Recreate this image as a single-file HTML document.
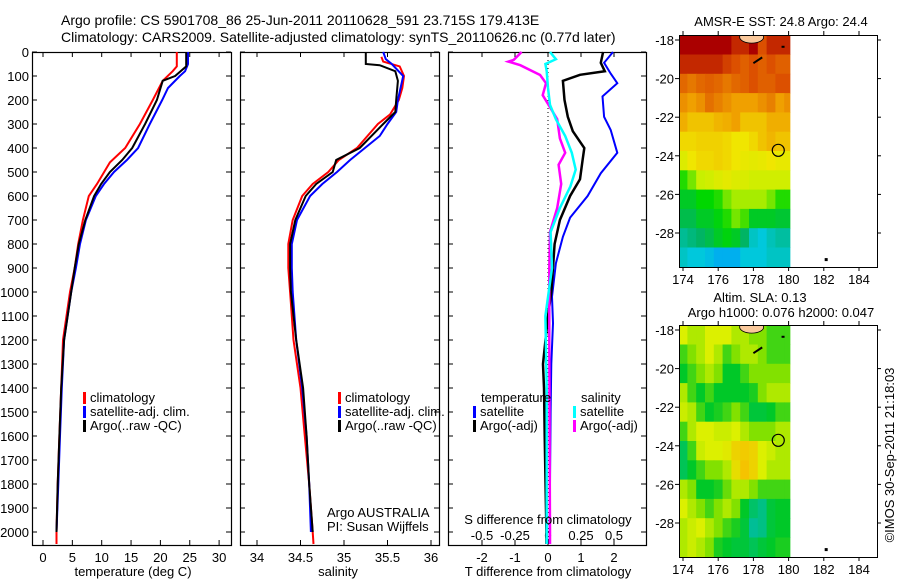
<!DOCTYPE html>
<html><head><meta charset="utf-8"><style>
html,body{margin:0;padding:0;background:#fff;}
svg{display:block;font-family:"Liberation Sans",sans-serif;}
text{fill:#000;}
</style></head><body>
<svg id="c" width="900" height="580" viewBox="0 0 900 580">
<text x="61" y="25" font-size="14">Argo profile: CS 5901708_86 25-Jun-2011 20110628_591 23.715S 179.413E</text>
<text x="61" y="42" font-size="14">Climatology: CARS2009. Satellite-adjusted climatology: synTS_20110626.nc (0.77d later)</text>
</svg>
<script>
// ---- profile data ----
const tRedDepth=[0,60,80,120,200,300,400,460,550,600,700,800,900,1000,1200,1400,1600,1800,2000,2050];
const tRedVal=[22.8,22.8,22.1,20.4,18.7,16.5,14,11.4,9.2,7.8,6.8,6,5.4,4.6,3.4,3.1,2.8,2.5,2.3,2.3];
const tBlueDepth=[0,50,80,100,150,200,300,400,450,500,550,600,700,800,900,1000,1200,1400,1600,1800,2000];
const tBlueVal=[24.7,24.7,24.2,23.3,21.3,20.3,18.2,16.2,14.3,12.1,10.4,9,7.3,6.3,5.6,4.8,3.6,3.2,2.9,2.6,2.3];
const tBlackDepth=[0,60,100,120,200,300,400,450,500,550,600,700,800,900,1000,1200,1400,1600,1800,2000];
const tBlackVal=[24.4,24.4,22.5,20.4,19.4,17.4,15.2,13.5,11.4,9.9,8.7,7.2,6.1,5.4,4.8,3.6,3.1,2.8,2.5,2.3];

const sRedDepth=[20,40,60,100,150,200,260,300,400,450,500,550,600,700,800,900,1000,1200,1400,1600,1800,2000,2050];
const sRedVal=[35.43,35.45,35.64,35.69,35.67,35.63,35.53,35.39,35.15,34.94,34.82,34.64,34.52,34.41,34.36,34.36,34.38,34.42,34.5,34.55,34.6,34.64,34.65];
const sBlueDepth=[0,30,50,100,200,250,300,350,400,450,500,550,600,700,800,900,1000,1200,1400,1600,1800,2000];
const sBlueVal=[35.45,35.48,35.55,35.68,35.62,35.6,35.5,35.41,35.24,35.07,34.92,34.75,34.61,34.46,34.4,34.4,34.41,34.45,34.52,34.57,34.6,34.62];
const sBlackDepth=[0,50,55,80,120,200,250,300,400,450,500,550,600,700,800,900,1000,1200,1400,1600,1800,2000];
const sBlackVal=[35.25,35.25,35.41,35.59,35.62,35.6,35.59,35.45,35.18,34.91,34.87,34.68,34.56,34.44,34.38,34.38,34.39,34.45,34.53,34.57,34.6,34.64];

const dTSatDepth=[0,45,90,130,185,270,325,420,505,600,690,770,880,1020,1130,1300,1500,1800,2050];
const dTSatVal=[1.97,1.7,1.9,2.1,1.65,1.7,1.9,2.1,1.6,1.2,0.67,0.45,0.24,0.12,0.15,0.1,0.08,0.06,0.05];
const dTArgoDepth=[0,45,80,95,120,200,270,330,400,450,530,600,700,800,1000,1100,1300,1400,1600,2000,2050];
const dTArgoVal=[1.67,1.6,1.72,0.97,0.45,0.5,0.6,0.75,1.1,1.05,0.97,0.67,0.36,0.2,0.1,0,-0.15,-0.12,-0.1,-0.05,-0.05];
const dSArgoDepth=[0,33,40,55,96,130,180,230,280,360,420,470,550,650,750,900,1200,1600,2000,2050];
const dSArgoVal=[-0.2,-0.26,-0.3,-0.21,-0.06,-0.015,-0.04,0.015,0.07,0.09,0.13,0.08,0.1,0.07,0.015,0.01,0.01,0.012,0.015,0.015];
const dSSatDepth=[0,30,50,80,150,220,280,350,420,490,560,650,750,900,1100,1400,1800,2050];
const dSSatVal=[0.015,0.06,-0.02,-0.01,0,0.015,0.06,0.13,0.18,0.21,0.17,0.09,0.02,0.03,-0.02,-0.01,-0.01,-0.01];

const depthTicks=[0,100,200,300,400,500,600,700,800,900,1000,1100,1200,1300,1400,1500,1600,1700,1800,1900,2000];
const tempTicks=[0,5,10,15,20,25,30];
const salTicks=[34,34.5,35,35.5,36];
const salTickLabels=["34","34.5","35","35.5","36"];
const dTTicks=[-2,-1,0,1,2];
const dSTicks=[-0.5,-0.25,0,0.25,0.5];
const dSTickLabels=["-0.5","-0.25","0","0.25","0.5"];

// ---- map data (13 cols x 12 rows, 0.5deg x 1deg from 173.75E, -17.75) ----
const lonTicks=[174,176,178,180,182,184];
const latTicks=[-18,-20,-22,-24,-26,-28];
const sstGrid=[
[1,1,1,1,1,1,0.95,0.95,1,0.9,0.95,0.95,0.95],
[0.95,0.95,0.95,0.95,0.95,0.92,0.9,0.88,0.9,0.88,0.9,0.88,0.88],
[0.87,0.85,0.87,0.88,0.87,0.85,0.87,0.88,0.9,0.88,0.88,0.9,0.9],
[0.82,0.8,0.82,0.86,0.84,0.82,0.8,0.8,0.8,0.82,0.84,0.8,0.82],
[0.78,0.75,0.75,0.75,0.77,0.78,0.8,0.75,0.75,0.75,0.78,0.78,0.78],
[0.72,0.72,0.73,0.73,0.73,0.72,0.7,0.7,0.72,0.75,0.77,0.75,0.75],
[0.65,0.7,0.72,0.72,0.73,0.72,0.7,0.68,0.67,0.68,0.7,0.68,0.68],
[0.5,0.55,0.6,0.62,0.65,0.67,0.65,0.64,0.62,0.62,0.62,0.62,0.62],
[0.45,0.45,0.48,0.48,0.5,0.55,0.58,0.58,0.58,0.58,0.55,0.5,0.5],
[0.42,0.42,0.45,0.45,0.47,0.5,0.55,0.52,0.45,0.45,0.45,0.44,0.44],
[0.36,0.38,0.4,0.42,0.45,0.47,0.45,0.4,0.32,0.3,0.33,0.35,0.35],
[0.32,0.3,0.3,0.28,0.25,0.25,0.25,0.3,0.3,0.3,0.32,0.32,0.32]];
const slaGrid=[
[0.6,0.55,0.55,0.6,0.6,0.6,0.55,0.55,0.5,0.5,0.45,0.45,0.45],
[0.45,0.5,0.55,0.6,0.55,0.45,0.5,0.55,0.55,0.5,0.45,0.45,0.45],
[0.4,0.45,0.5,0.55,0.5,0.4,0.4,0.45,0.5,0.5,0.5,0.5,0.5],
[0.55,0.45,0.4,0.45,0.4,0.4,0.4,0.4,0.42,0.5,0.55,0.55,0.55],
[0.58,0.55,0.45,0.4,0.42,0.45,0.5,0.45,0.38,0.38,0.4,0.45,0.45],
[0.45,0.55,0.6,0.6,0.58,0.58,0.6,0.55,0.5,0.5,0.5,0.55,0.55],
[0.35,0.45,0.58,0.6,0.6,0.62,0.68,0.7,0.68,0.6,0.58,0.55,0.55],
[0.35,0.4,0.45,0.5,0.5,0.55,0.65,0.72,0.68,0.6,0.55,0.55,0.55],
[0.55,0.5,0.4,0.4,0.42,0.48,0.55,0.55,0.5,0.45,0.45,0.45,0.45],
[0.6,0.55,0.5,0.45,0.5,0.55,0.5,0.4,0.33,0.3,0.38,0.4,0.4],
[0.55,0.58,0.6,0.55,0.5,0.45,0.42,0.38,0.28,0.3,0.38,0.4,0.4],
[0.55,0.58,0.55,0.5,0.42,0.4,0.38,0.38,0.35,0.38,0.4,0.42,0.42]];
const argoLon=179.413, argoLat=-23.715;

const NS="http://www.w3.org/2000/svg";
const svg=document.getElementById('c');
function el(tag,attrs,parent){const e=document.createElementNS(NS,tag);for(const k in attrs)e.setAttribute(k,attrs[k]);(parent||svg).appendChild(e);return e;}
function txt(x,y,s,size,anchor,parent){const t=el('text',{x:x,y:y,'font-size':size,'text-anchor':anchor||'start'},parent);t.textContent=s;return t;}

const TOP=52,BOT=545;
const yD=d=>52+d*0.24;
const xT=t=>43+t*5.87;
const xS=s=>257+(s-34)*87;
const xdT=t=>548+t*33;
const xdS=s=>548+s*132;

function panel(x0,x1,name){
  const g=el('g',{});
  
  
  el('rect',{x:x0+0.5,y:TOP+0.5,width:x1-x0,height:BOT-TOP,fill:'none',stroke:'#000','stroke-width':1.2},g);
  depthTicks.forEach(d=>{const y=yD(d);
    el('line',{x1:x0,y1:y,x2:x0+5,y2:y,stroke:'#000'},g);
    el('line',{x1:x1-5,y1:y,x2:x1,y2:y,stroke:'#000'},g);});
  return g;
}
function line(ds,vs,xf,color,name,g,w){
  const pts=ds.map((d,i)=>xf(vs[i]).toFixed(1)+','+yD(d).toFixed(1)).join(' ');
  const p=el('polyline',{points:pts,fill:'none',stroke:color,'stroke-width':w||2},g);
  
  
}

// Panel 1
const p1=panel(32,231,'temperature-panel');
depthTicks.forEach(d=>{const t=txt(29,yD(d)+5,String(d),13,'end',p1);
  
  });
tempTicks.forEach(v=>{const x=xT(v);
  el('line',{x1:x,y1:BOT,x2:x,y2:BOT-5,stroke:'#000'},p1);
  el('line',{x1:x,y1:TOP,x2:x,y2:TOP+5,stroke:'#000'},p1);
  const t=txt(x,562,String(v),13,'middle',p1);
  
  });
line(tRedDepth,tRedVal,xT,'#f00','temp-climatology-line',p1);
line(tBlueDepth,tBlueVal,xT,'#00f','temp-satellite-line',p1);
line(tBlackDepth,tBlackVal,xT,'#000','temp-argo-line',p1);
{const t=txt(133,576,'temperature (deg C)',13,'middle',p1);}

function legend(x,y,items,g,name){
  const lg=el('g',{},g);
  
  
  items.forEach((it,i)=>{
    el('rect',{x:x,y:y+i*14-10,width:3,height:12,fill:it[0]},lg);
    txt(x+7,y+i*14,it[1],13,'start',lg);});
}
legend(83,402,[['#f00','climatology'],['#00f','satellite-adj. clim.'],['#000','Argo(..raw -QC)']],p1,'temperature-legend');

// Panel 2
const p2=panel(240,439,'salinity-panel');
salTicks.forEach((v,i)=>{const x=xS(v);
  el('line',{x1:x,y1:BOT,x2:x,y2:BOT-5,stroke:'#000'},p2);
  el('line',{x1:x,y1:TOP,x2:x,y2:TOP+5,stroke:'#000'},p2);
  const t=txt(x,562,salTickLabels[i],13,'middle',p2);
  
  });
line(sRedDepth,sRedVal,xS,'#f00','sal-climatology-line',p2);
line(sBlueDepth,sBlueVal,xS,'#00f','sal-satellite-line',p2);
line(sBlackDepth,sBlackVal,xS,'#000','sal-argo-line',p2);
{const t=txt(338,576,'salinity',13,'middle',p2);}
legend(338,402,[['#f00','climatology'],['#00f','satellite-adj. clim.'],['#000','Argo(..raw -QC)']],p2,'salinity-legend');
{const t=txt(327,517,'Argo AUSTRALIA',13,'start',p2);
 const t2=txt(327,531,'PI: Susan Wijffels',13,'start',p2);}

// Panel 3
const p3=panel(448,646,'difference-panel');
el('line',{x1:548,y1:TOP,x2:548,y2:BOT,stroke:'#000','stroke-dasharray':'1,3'},p3);
dTTicks.forEach(v=>{const x=xdT(v);
  el('line',{x1:x,y1:BOT,x2:x,y2:BOT-5,stroke:'#000'},p3);
  el('line',{x1:x,y1:TOP,x2:x,y2:TOP+5,stroke:'#000'},p3);
  const t=txt(x,562,String(v),13,'middle',p3);
  
  });
dSTicks.forEach((v,i)=>{const x=xdS(v);
  el('line',{x1:x,y1:BOT,x2:x,y2:BOT-4,stroke:'#000'},p3);
  const t=txt(x,540,dSTickLabels[i],13,'middle',p3);
  
  });
line(dTSatDepth,dTSatVal,xdT,'#00f','t-diff-satellite-line',p3);
line(dTArgoDepth,dTArgoVal,xdT,'#000','t-diff-argo-line',p3,2.5);
line(dSArgoDepth,dSArgoVal,xdS,'#f0f','s-diff-argo-line',p3,2.5);
line(dSSatDepth,dSSatVal,xdS,'#0ff','s-diff-satellite-line',p3,2.5);
{const t=txt(548,524,'S difference from climatology',13,'middle',p3);
 const t2=txt(548,576,'T difference from climatology',13,'middle',p3);
 const t3=txt(481,402,'temperature',13,'start',p3);
 const t4=txt(581,402,'salinity',13,'start',p3);}
legend(473,416,[['#00f','satellite'],['#000','Argo(-adj)']],p3,'t-diff-legend');
legend(573,416,[['#0ff','satellite'],['#f0f','Argo(-adj)']],p3,'s-diff-legend');

// ---- Maps ----
const sstStops=[[0.2,[0,150,255]],[0.3,[0,200,220]],[0.4,[0,180,100]],[0.48,[0,215,0]],[0.6,[200,240,0]],[0.7,[240,230,0]],[0.8,[240,160,0]],[0.9,[220,80,0]],[1.0,[170,0,0]]];
const slaStops=[[0.28,[0,190,150]],[0.4,[0,200,40]],[0.5,[130,225,0]],[0.6,[220,240,0]],[0.72,[245,195,0]]];
function cmap(v,stops){
  if(v<=stops[0][0])return stops[0][1];
  for(let i=1;i<stops.length;i++){if(v<=stops[i][0]){const a=stops[i-1],b=stops[i],f=(v-a[0])/(b[0]-a[0]);
    return a[1].map((c,j)=>Math.round(c+(b[1][j]-c)*f));}}
  return stops[stops.length-1][1];
}
function drawMap(y0,grid,stops,name){
  const X0=679,X1=877,Y0=y0,Y1=y0+232;
  const xL=l=>683+(l-174)*17.6;
  const yL=la=>(y0+5)+(-18-la)*19.3;
  const g=el('g',{});
  
  
  const cl=el('clipPath',{id:'clip'+y0},g);
  el('rect',{x:X0,y:Y0,width:xL(180.1)-X0,height:Y1-Y0},cl);
  const cg=el('g',{'clip-path':'url(#clip'+y0+')'},g);
  grid.forEach((row,r)=>row.forEach((v,c)=>{
    const lon=173.75+c*0.5, lat=-17.75-r;
    const col=cmap(v,stops);
    el('rect',{x:xL(lon).toFixed(1),y:yL(lat).toFixed(1),width:9.3,height:19.8,fill:'rgb('+col.join(',')+')'},cg);
  }));
  el('ellipse',{cx:xL(177.9),cy:yL(-17.85),rx:12,ry:6,fill:'#f9c89b',stroke:'#000','stroke-width':0.8},cg);
  el('line',{x1:xL(178.0),y1:yL(-19.2),x2:xL(178.5),y2:yL(-18.9),stroke:'#000','stroke-width':2},g);
  el('rect',{x:xL(179.6),y:yL(-18.3),width:3,height:2,fill:'#000'},g);
  el('rect',{x:xL(182.05),y:yL(-29.3),width:3,height:3,fill:'#000'},g);
  el('rect',{x:X0+0.5,y:Y0+0.5,width:X1-X0,height:Y1-Y0,fill:'none',stroke:'#000'},g);
  lonTicks.forEach(l=>{const x=xL(l);
    el('line',{x1:x,y1:Y1,x2:x,y2:Y1+4,stroke:'#000'},g);
    el('line',{x1:x,y1:Y0,x2:x,y2:Y0-4,stroke:'#000'},g);
    const t=txt(x,Y1+17,String(l),13,'middle',g);
    
    });
  latTicks.forEach(la=>{const y=yL(la);
    el('line',{x1:X0,y1:y,x2:X0-4,y2:y,stroke:'#000'},g);
    el('line',{x1:X1,y1:y,x2:X1+4,y2:y,stroke:'#000'},g);
    const t=txt(X0-5,y+5,String(la),13,'end',g);
    
    });
  const c=el('circle',{cx:xL(argoLon),cy:yL(argoLat),r:6,fill:'none',stroke:'#000','stroke-width':1.2},g);
  
  
}
drawMap(35,sstGrid,sstStops,'sst-map');
drawMap(325,slaGrid,slaStops,'sla-map');
{const t=txt(781,26,'AMSR-E SST: 24.8 Argo: 24.4',13,'middle');
 const t2=txt(760,302,'Altim. SLA: 0.13',13,'middle');
 const t3=txt(781,317,'Argo h1000: 0.076 h2000: 0.047',13,'middle');
 const t4=txt(0,0,'©IMOS 30-Sep-2011 21:18:03',13,'middle');t4.setAttribute('transform','translate(894,455) rotate(-90)');}
</script>
</body></html>
